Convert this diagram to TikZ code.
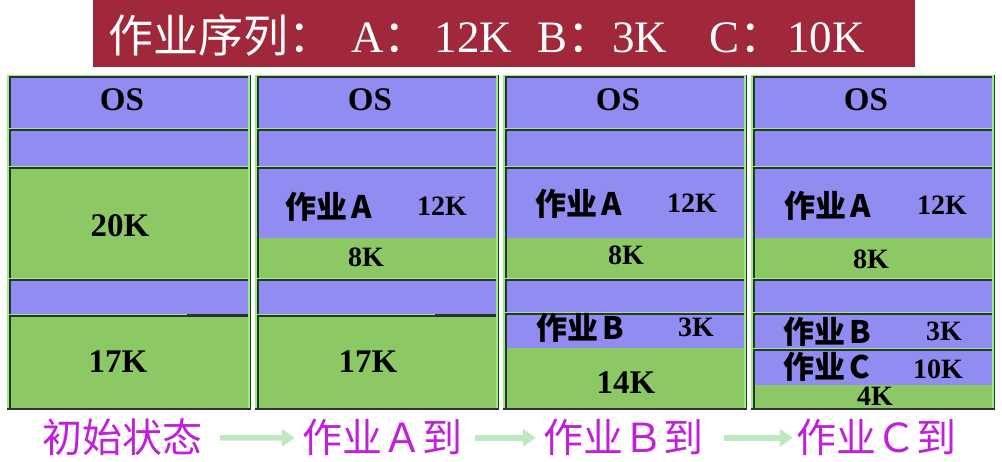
\documentclass[tikz,border=0pt]{standalone}
\usepackage{fontspec}
\setmainfont{Liberation Serif}
\newfontfamily\cjk{Noto Sans CJK SC}
\usepackage{tikz}
\usetikzlibrary{arrows.meta,positioning}
\definecolor{banner}{HTML}{A0283A}
\definecolor{bandblue}{HTML}{908CF2}
\definecolor{bandgreen}{HTML}{8CC864}
\definecolor{edgegreen}{HTML}{98F080}
\definecolor{edgedark}{HTML}{283232}
\definecolor{stagetext}{HTML}{C020D8}
\definecolor{arrowgreen}{HTML}{BEE8BE}
\tikzset{%
	title/.style    = {font=\fontsize{45}{45}\selectfont, text=white, anchor=base west, inner sep=0pt},
	bigsize/.style  = {font=\bfseries\fontsize{33}{33}\selectfont, anchor=base, inner sep=0pt},
	joblabel/.style = {font=\cjk\bfseries\fontsize{31}{31}\selectfont, anchor=base, inner sep=0pt},
	jobsize/.style  = {font=\bfseries\fontsize{28}{28}\selectfont, anchor=base, inner sep=0pt},
	stage/.style    = {font=\cjk\fontsize{40}{40}\selectfont, text=stagetext, anchor=base, inner sep=0pt},
	arrow/.style    = {arrowgreen, line width=5.5pt, -{Triangle[width=17pt,length=13pt]}},
}
% one partition of a memory column: x, top, bottom, colour
\newcommand{\membox}[4]{%
	\fill[edgedark] (#1+2,#2+1.5) rectangle (#1+241,#3);
	\fill[#4] (#1+4,#2+3) rectangle (#1+241,#3);
}
\begin{document}
\begin{tikzpicture}[x=1pt,y=-1pt]
	\useasboundingbox (0,0) rectangle (1002,462);
	
	% title bar
	\fill[banner] (93,0) rectangle (915,67);
	\node[title] (seq) at (108,53) {{\cjk 作业序列：}\hspace{18pt}A{\cjk ：}\hspace{6pt}12K\hspace{25pt}B{\cjk ：}3K\hspace{42pt}C{\cjk ：}\hspace{3pt}10K};
	
	% memory columns
	\foreach \x in {7,255,503,751}{
		\fill[edgedark] (\x,75) rectangle (\x+244,410);
		\fill[edgegreen] (\x,75) rectangle (\x+242.5,408);
		\membox{\x}{75}{128}{bandblue}
		\membox{\x}{128}{166}{bandblue}
	}
	
	% initial state
	\membox{7}{166}{278}{bandgreen}
	\membox{7}{278}{314}{bandblue}
	\membox{7}{314}{408}{bandgreen}
	\fill[edgedark] (187,314) rectangle (248,317);
	
	% job A loaded
	\membox{255}{166}{278}{bandblue}
	\fill[bandgreen] (259,238) rectangle (496,278);
	\membox{255}{278}{314}{bandblue}
	\membox{255}{314}{408}{bandgreen}
	\fill[edgedark] (435,314) rectangle (496,317);
	
	% job B loaded
	\membox{503}{166}{278}{bandblue}
	\fill[bandgreen] (507,238) rectangle (744,278);
	\membox{503}{278}{312}{bandblue}
	\membox{503}{312}{408}{bandblue}
	\fill[bandgreen] (507,348) rectangle (744,408);
	
	% job C loaded
	\membox{751}{166}{278}{bandblue}
	\fill[bandgreen] (755,238) rectangle (992,278);
	\membox{751}{278}{312}{bandblue}
	\membox{751}{312}{348}{bandblue}
	\membox{751}{348}{408}{bandblue}
	\fill[bandgreen] (755,385) rectangle (992,408);
	
	% sizes and jobs
	\foreach \x/\n in {122/1,370/2,618/3,866/4}
		\node[bigsize] (os\n) at (\x,111) {OS};
	\node[bigsize] (hole1) at (120,237) {20K};
	\node[bigsize] (rest1) at (118,373) {17K};
	\node[bigsize] (rest2) at (368,373) {17K};
	\node[bigsize] (rest3) at (626,394) {14K};
	
	\node[joblabel] (jobA2) at (329,219) {作业\hspace{4pt}A};
	\node[jobsize]  (szA2)  at (442,216) {12K};
	\node[jobsize]  (free2) at (366,267) {8K};
	
	\node[joblabel] (jobA3) at (579,216) {作业\hspace{4pt}A};
	\node[jobsize]  (szA3)  at (692,213) {12K};
	\node[jobsize]  (free3) at (626,265) {8K};
	\node[joblabel] (jobB3) at (580,340) {作业\hspace{4pt}B};
	\node[jobsize]  (szB3)  at (696,337) {3K};
	
	\node[joblabel] (jobA4) at (828,218) {作业\hspace{4pt}A};
	\node[jobsize]  (szA4)  at (942,215) {12K};
	\node[jobsize]  (free4) at (871,269) {8K};
	\node[joblabel] (jobB4) at (827,344) {作业\hspace{4pt}B};
	\node[jobsize]  (szB4)  at (944,341) {3K};
	\node[joblabel] (jobC4) at (827,379) {作业\hspace{4pt}C};
	\node[jobsize]  (szC4)  at (938,379) {10K};
	\node[jobsize]  (rest4) at (875,406) {4K};
	
	% stages
	\node[stage] (init)   at (122,453) {初始状态};
	\node[stage] (stageA) at (382,453) {作业Ａ到};
	\node[stage] (stageB) at (623,453) {作业Ｂ到};
	\node[stage] (stageC) at (876,453) {作业Ｃ到};
	
	\draw[arrow, shorten <=18pt, shorten >=7pt] (init) -- (stageA);
	\draw[arrow, shorten <=13pt, shorten >=7pt] (stageA) -- (stageB);
	\draw[arrow, shorten <=21pt, shorten >=3pt] (stageB) -- (stageC);
	
\end{tikzpicture}
\end{document}
